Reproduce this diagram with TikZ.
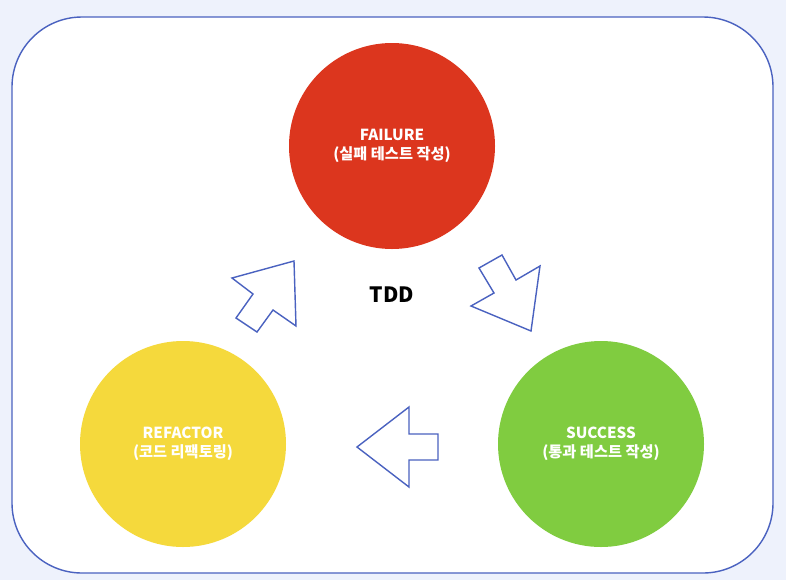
\documentclass[tikz,border=0pt]{standalone}
\usepackage{fontspec}
\setmainfont{Noto Sans CJK KR}
\usetikzlibrary{positioning}
\definecolor{pagebg}{HTML}{EEF2FC}
\definecolor{frameblue}{HTML}{4A62C0}
\definecolor{failred}{HTML}{DC361E}
\definecolor{refyellow}{HTML}{F5D93C}
\definecolor{passgreen}{HTML}{80CC40}

\begin{document}
\begin{tikzpicture}[
    x=0.03cm, y=-0.03cm,
    phase/.style={circle, minimum size=206*0.03cm, inner sep=0pt, text=white, font=\bfseries\fontsize{13}{16}\selectfont, align=center},
    flow/.style={draw=frameblue, line width=1.2pt, line join=miter, fill=white},
    every node/.style={font=\small}
  ]
    \fill[pagebg] (0,0) rectangle (786,580);
    \useasboundingbox (0,0) rectangle (786,580);
    \draw[frameblue, line width=1.2pt, fill=white, rounded corners=70*0.03cm] (12,17) rectangle (773,573);

    \node[phase, fill=failred]   (fail) at (392,146) {FAILURE\\(실패 테스트 작성)};
    \node[phase, fill=refyellow] (ref)  at (183,444) {REFACTOR\\(코드 리팩토링)};
    \node[phase, fill=passgreen] (pass) at (601,444) {SUCCESS\\(통과 테스트 작성)};
    \node[font=\bfseries\fontsize{18}{20}\selectfont] (tdd) at (392,295) {TDD};

    % block arrows of the cycle
    \draw[flow] (479,268) -- (502,255) -- (516,280) -- (540,266) -- (531,331) -- (471,306) -- (494,293) -- cycle;
    \draw[flow] (357,447) -- (409,407) -- (409,434) -- (438,434) -- (438,460) -- (409,460) -- (409,487) -- cycle;
    \draw[flow] (232,278) -- (294,261) -- (296,326) -- (273,310) -- (257,332) -- (236,318) -- (253,294) -- cycle;
  \end{tikzpicture}
\end{document}
